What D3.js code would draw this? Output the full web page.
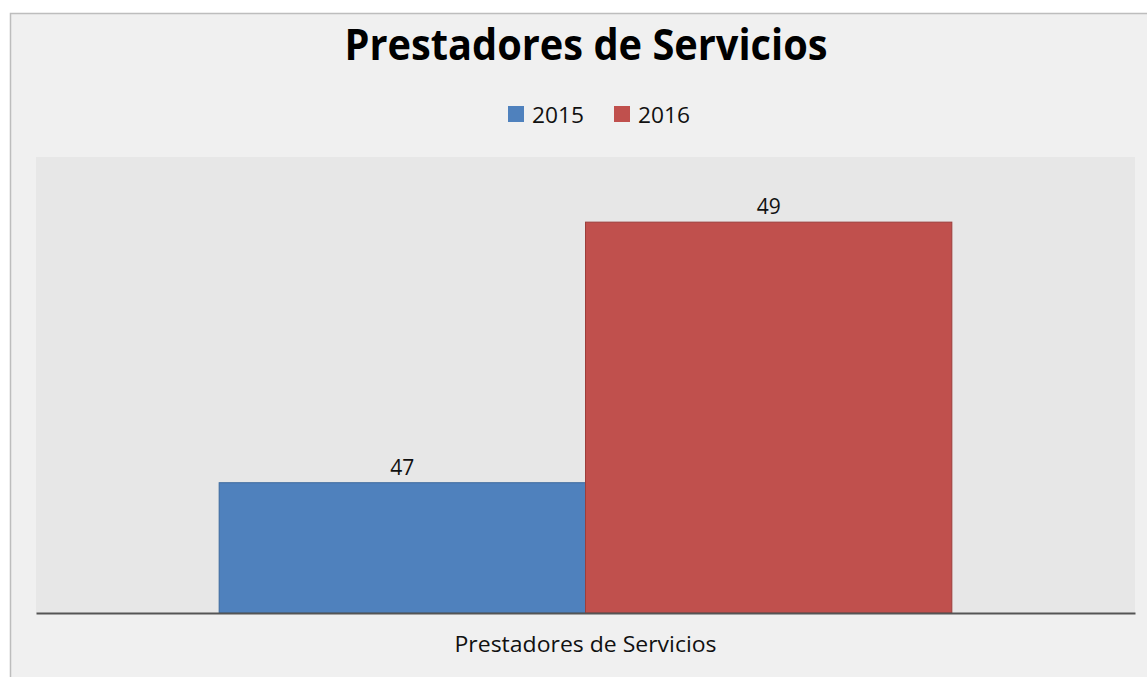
<!DOCTYPE html>
<html>
<head>
<meta charset="utf-8">
<script src="https://cdn.jsdelivr.net/npm/d3@7"></script>
<style>
    body { margin: 0; background: #ffffff; }
    svg { display: block; font-family: "Open Sans", "DejaVu Sans", sans-serif; }
</style>
</head>
<body>
<div id="chart"></div>
<script>
// chart data
const categories = ["Prestadores de Servicios"];
const years = ["2015", "2016"];
const values2015 = [47];
const values2016 = [49];
const colors = ["#4f81bd", "#c0504d"];
const strokes = ["#3d6a9e", "#9c3e3b"];

const series = [values2015, values2016];

const totalW = 1147, totalH = 677;
const margin = { top: 157, right: 12, bottom: 64, left: 36 };
const width = totalW - margin.left - margin.right;
const height = totalH - margin.top - margin.bottom;

const svg = d3.select("#chart").append("svg")
    .attr("width", totalW)
    .attr("height", totalH);

// outer chart frame
svg.append("rect")
    .attr("x", 10.5).attr("y", 13.5)
    .attr("width", totalW + 10).attr("height", totalH + 10)
    .attr("fill", "#f0f0f0")
    .attr("stroke", "#bdbdbd")
    .attr("stroke-width", 1.5);

// title
svg.append("text")
    .attr("x", 586).attr("y", 60)
    .attr("text-anchor", "middle")
    .style("font-size", "43px")
    .style("font-weight", "bold")
    .attr("textLength", 483)
    .attr("lengthAdjust", "spacingAndGlyphs")
    .attr("fill", "#000")
    .text("Prestadores de Servicios");

// legend
const legend = svg.append("g").attr("transform", "translate(508,106)");
const legendX = [0, 106];
years.forEach((y, i) => {
    let g = legend.append("g").attr("transform", `translate(${legendX[i]},0)`);
    g.append("rect")
        .attr("width", 16).attr("height", 16)
        .attr("fill", colors[i]);
    g.append("text")
        .attr("x", 24).attr("y", 17)
        .style("font-size", "22px")
        .attr("textLength", 52)
        .attr("lengthAdjust", "spacingAndGlyphs")
        .attr("fill", "#111")
        .text(y);
});

const plot = svg.append("g")
    .attr("transform", `translate(${margin.left},${margin.top})`);

plot.append("rect")
    .attr("width", width).attr("height", height)
    .attr("fill", "#e7e7e7");

// scales
const x0 = d3.scaleBand()
    .domain(categories)
    .range([0, width])
    .paddingInner(0)
    .paddingOuter(0.25);

const x1 = d3.scaleBand()
    .domain(years)
    .range([0, x0.bandwidth()]);

const y = d3.scaleLinear()
    .domain([46, 49.5])
    .range([height, 0]);

const xAxis = d3.axisBottom(x0).tickSize(0).tickPadding(24);

// bars
categories.forEach((c, ci) => {
    years.forEach((yr, yi) => {
        let v = series[yi][ci];
        plot.append("rect")
            .attr("x", x0(c) + x1(yr))
            .attr("y", y(v))
            .attr("width", x1.bandwidth())
            .attr("height", height - y(v))
            .attr("fill", colors[yi])
            .attr("stroke", strokes[yi])
            .attr("stroke-width", 1);

        plot.append("text")
            .attr("x", x0(c) + x1(yr) + x1.bandwidth() / 2)
            .attr("y", y(v) - 8)
            .attr("text-anchor", "middle")
            .style("font-size", "21px")
            .attr("fill", "#111")
            .text(v);
    });
});

// x axis
const gx = plot.append("g")
    .attr("class", "x-axis")
    .attr("transform", `translate(0,${height})`)
    .call(xAxis);
gx.select(".domain").attr("stroke", "#555").attr("stroke-width", 2);
gx.selectAll("text")
    .style("font-size", "21px")
    .style("font-family", "\"Open Sans\", sans-serif")
    .attr("textLength", 262)
    .attr("lengthAdjust", "spacingAndGlyphs")
    .attr("fill", "#111");
</script>
</body>
</html>
